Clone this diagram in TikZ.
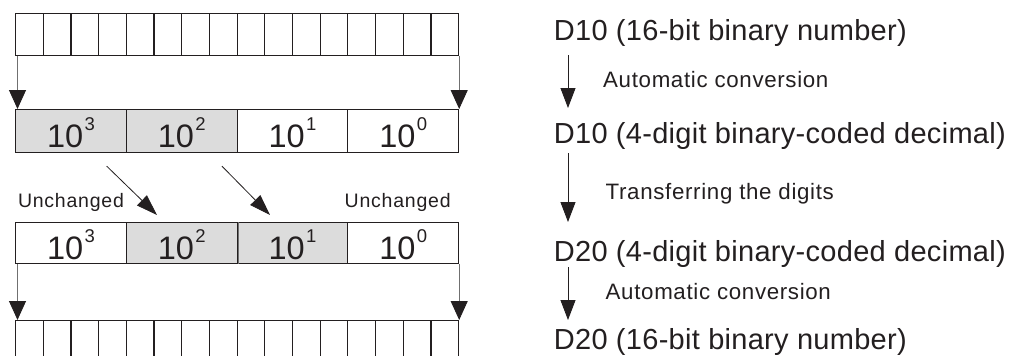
\documentclass[tikz,border=0pt]{standalone}
\usepackage{fontspec}
\setmainfont{Liberation Sans}
\newfontfamily\bigsp[LetterSpace=1]{Liberation Sans}
\newfontfamily\smallsp[LetterSpace=3]{Liberation Sans}
\newfontfamily\unchsp[LetterSpace=4]{Liberation Sans}
\usetikzlibrary{arrows.meta}
\definecolor{ink}{HTML}{231F20}
\definecolor{shade}{HTML}{DCDCDC}
\definecolor{lineg}{HTML}{707070}
\newcommand\tenpow[1]{10\kern1.5pt\raisebox{16.7pt}{\fontsize{18.5}{18.5}\selectfont #1}}
\begin{document}
\begin{tikzpicture}[x=1pt,y=-1pt,
  reg/.style={draw=ink, line width=1.2pt, inner sep=0pt, anchor=north west},
  bitcell/.style={reg, minimum width=27.6875pt, minimum height=42pt},
  digcell/.style={reg, minimum width=110.75pt, minimum height=#1, text height=32.4pt, text depth=0pt,
     font=\fontsize{32.5}{32.5}\selectfont, text=ink},
  grey/.style={fill=shade},
  regarrow/.style={draw=lineg, line width=0.9pt, -{Triangle[length=19pt,width=17pt,color=ink]}},
  diagarrow/.style={draw=ink, line width=0.8pt, -{Triangle[length=21pt,width=14pt]}},
  sidearrow/.style={draw=ink, line width=0.9pt, -{Triangle[length=20pt,width=15pt]}},
  biglbl/.style={inner sep=0pt, anchor=base west, text=ink, font=\bigsp\fontsize{29}{32}\selectfont},
  smalllbl/.style={inner sep=0pt, anchor=base west, text=ink, font=\smallsp\fontsize{22.3}{25}\selectfont},
  unchlbl/.style={inner sep=0pt, anchor=base west, text=ink, font=\unchsp\fontsize{19.5}{22}\selectfont}
]
\useasboundingbox (0,0) rectangle (1013,356);
\clip (0,0) rectangle (1013,356);
\fill[white] (0,0) rectangle (1013,356);

% top 16-bit register
\foreach \i in {1,...,16}{
  \node[bitcell] (t\i) at ({15+(\i-1)*27.6875},13) {};
}
% first BCD register
\node[digcell=43pt, grey] (c1) at (15,109) {\tenpow{3}};
\node[digcell=43pt, grey] (c2) at (125.75,109) {\tenpow{2}};
\node[digcell=43pt] (c3) at (236.5,109) {\tenpow{1}};
\node[digcell=43pt] (c4) at (347.25,109) {\tenpow{0}};
% second BCD register
\node[digcell=41pt] (e1) at (15,222) {\tenpow{3}};
\node[digcell=41pt, grey] (e2) at (125.75,222) {\tenpow{2}};
\node[digcell=41pt, grey] (e3) at (236.5,222) {\tenpow{1}};
\node[digcell=41pt] (e4) at (347.25,222) {\tenpow{0}};
\draw[draw=lineg, line width=0.8pt] ([xshift=2.3pt]e3.north west) -- ([xshift=2.3pt]e3.south west);
% bottom 16-bit register
\foreach \i in {1,...,16}{
  \node[bitcell, minimum height=50pt] (b\i) at ({15+(\i-1)*27.6875},320) {};
}

% vertical arrows
\draw[regarrow] ([xshift=2.5pt]t1.south west) -- ([xshift=2.5pt]c1.north west);
\draw[regarrow] (t16.south east) -- (c4.north east);
\draw[regarrow] ([xshift=2.5pt]e1.south west) -- ([xshift=2.5pt]b1.north west);
\draw[regarrow] (e4.south east) -- (b16.north east);

% diagonal arrows
\draw[diagarrow] ([shift={(-19pt,-13pt)}]c2.south west) -- ([shift={(31.25pt,7pt)}]e2.north west);
\draw[diagarrow] ([shift={(-14.5pt,-13pt)}]c3.south west) -- ([shift={(33.5pt,7pt)}]e3.north west);

% unchanged labels
\node[unchlbl] (u1) at (17.8,207.3) {Unchanged};
\node[unchlbl] (u2) at (344.5,207.3) {Unchanged};

% right column
\node[biglbl] (d1) at (553.7,40) {D10 (16-bit binary number)};
\node[biglbl] (d2) at (553.7,143.3) {D10 (4-digit binary-coded decimal)};
\node[biglbl] (d3) at (553.7,261.6) {D20 (4-digit binary-coded decimal)};
\node[biglbl] (d4) at (553.7,349.6) {D20 (16-bit binary number)};

\node[smalllbl] (a1) at (603,87.7) {Automatic conversion};
\node[smalllbl] (a2) at (605.5,199.8) {Transferring the digits};
\node[smalllbl] (a3) at (605.5,299.8) {Automatic conversion};

\draw[sidearrow] ([shift={(14.3pt,-15pt)}]d1.base west) -- ([shift={(14.3pt,35.3pt)}]d2.base west);
\draw[sidearrow] ([shift={(14.3pt,-9.7pt)}]d2.base west) -- ([shift={(14.3pt,39.6pt)}]d3.base west);
\draw[sidearrow] ([shift={(14.3pt,-5.4pt)}]d3.base west) -- ([shift={(14.3pt,29.6pt)}]d4.base west);
\end{tikzpicture}
\end{document}
